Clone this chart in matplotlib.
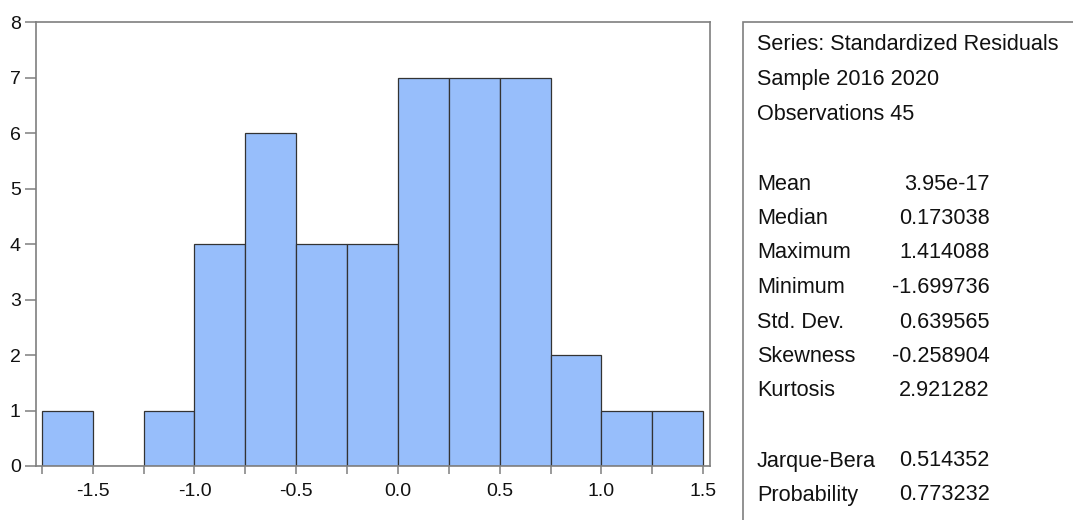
import matplotlib
matplotlib.use("Agg")
import matplotlib.pyplot as plt
from matplotlib.patches import Rectangle

# Histogram of standardized residuals (bin width 0.25)
bin_left = [-1.75, -1.50, -1.25, -1.00, -0.75, -0.50, -0.25,
            0.00, 0.25, 0.50, 0.75, 1.00, 1.25]
counts = [1, 0, 1, 4, 6, 4, 4, 7, 7, 7, 2, 1, 1]
bin_width = 0.25

x_ticks = [-1.5, -1.0, -0.5, 0.0, 0.5, 1.0, 1.5]
x_minor = [-1.75, -1.25, -0.75, -0.25, 0.25, 0.75, 1.25]
y_ticks = list(range(0, 9))

header_lines = ["Series: Standardized Residuals", "Sample 2016 2020", "Observations 45"]
stat_names = ["Mean", "Median", "Maximum", "Minimum", "Std. Dev.", "Skewness", "Kurtosis"]
stat_values = ["3.95e-17", "0.173038", "1.414088", "-1.699736", "0.639565", "-0.258904", "2.921282"]
test_names = ["Jarque-Bera", "Probability"]
test_values = ["0.514352", "0.773232"]

plt.rcParams['font.family'] = ['Liberation Sans', 'DejaVu Sans']

W, H = 1073, 520
fig = plt.figure(figsize=(W / 100, H / 100), dpi=100)
fig.patch.set_facecolor('white')


def px_box(x0, y0, x1, y1):
    # pixel box (top-left origin) -> figure fraction rect
    return [x0 / W, 1 - y1 / H, (x1 - x0) / W, (y1 - y0) / H]


ax = fig.add_axes(px_box(36, 22, 710, 466))
ax.bar(bin_left, counts, width=bin_width, align='edge',
       color='#97BEFB', edgecolor='#333333', linewidth=0.9)

ax.set_xlim(-1.779, 1.534)
ax.set_ylim(0, 8)
ax.set_xticks(x_ticks)
ax.set_xticklabels([f"{t:.1f}" for t in x_ticks])
ax.set_xticks(x_minor, minor=True)
ax.set_yticks(y_ticks)

spine_color = '#7f7f7f'
for s in ax.spines.values():
    s.set_color(spine_color)
    s.set_linewidth(1.2)
ax.tick_params(axis='both', which='both', direction='out', color=spine_color,
               width=1.1, labelsize=14, labelcolor='#111111')
ax.tick_params(axis='x', which='both', length=6, pad=6)
ax.tick_params(axis='y', length=8, pad=3)

# statistics panel on the right
fig.patches.append(Rectangle((743 / W, -0.05), 0.4, 1 - 22 / H + 0.05,
                             transform=fig.transFigure, facecolor='none',
                             edgecolor=spine_color, linewidth=1.2))

fs = 15.6
text_x = 757 / W
value_x = 990 / W
for i, line in enumerate(header_lines):
    y = 45 + i * 34.5
    fig.text(text_x, 1 - y / H, line, fontsize=fs, va='center', ha='left', color='#111111')
for i, (name, val) in enumerate(zip(stat_names, stat_values)):
    y = 184 + i * 34.5
    fig.text(text_x, 1 - y / H, name, fontsize=fs, va='center', ha='left', color='#111111')
    fig.text(value_x, 1 - y / H, val, fontsize=fs, va='center', ha='right', color='#111111')
for i, (name, val) in enumerate(zip(test_names, test_values)):
    y = 461 + i * 34
    fig.text(text_x, 1 - y / H, name, fontsize=fs, va='center', ha='left', color='#111111')
    fig.text(value_x, 1 - y / H, val, fontsize=fs, va='center', ha='right', color='#111111')

fig.savefig('out.png', dpi=100)
